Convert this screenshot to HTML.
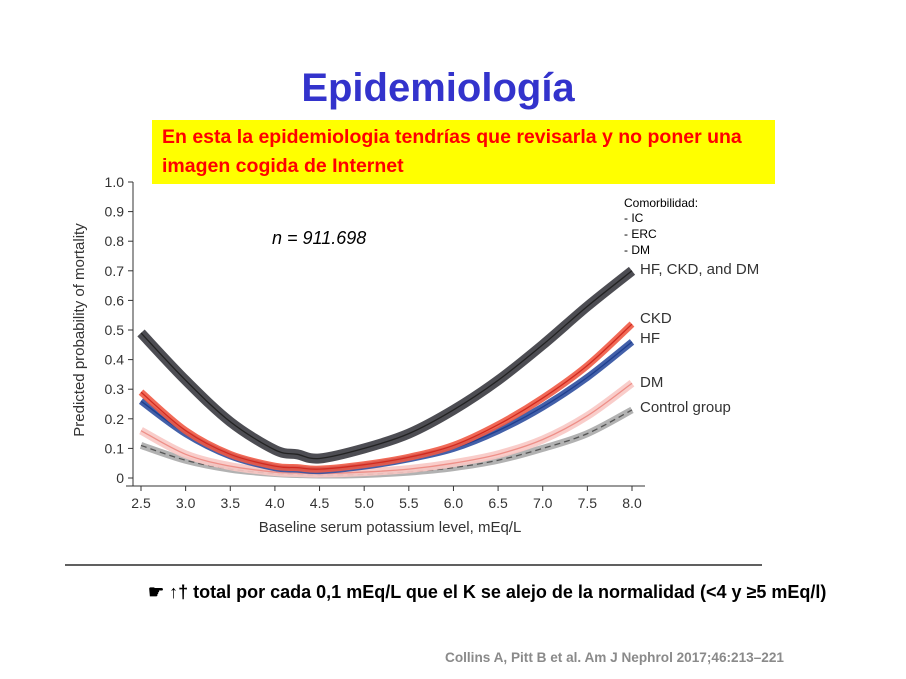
<!DOCTYPE html>
<html><head><meta charset="utf-8"><style>
body{margin:0;width:906px;height:679px;background:#fff;position:relative;overflow:hidden;font-family:"Liberation Sans",sans-serif}
.a{position:absolute}
</style></head><body>
<div class="a" style="left:0;width:876px;top:66px;text-align:center;font-size:40px;font-weight:bold;color:#3333cc">Epidemiología</div>
<div class="a" style="left:152px;top:120px;width:623px;height:64px;background:#ffff00;color:#ff0000;font-weight:bold;font-size:19.5px;line-height:29px;padding:3px 0 0 10px;box-sizing:border-box;white-space:nowrap">En esta la epidemiologia tendrías que revisarla y no poner una<br>imagen cogida de Internet</div>
<svg class="a" style="left:0;top:0" width="906" height="679">
<g id="axes"></g><g id="series"></g>
<text x="272" y="244" font-size="18" font-style="italic" fill="#000">n = 911.698</text>
<g font-size="12" fill="#000">
<text x="624" y="207">Comorbilidad:</text><text x="624" y="222">- IC</text><text x="624" y="238">- ERC</text><text x="624" y="254">- DM</text></g>
<g font-size="15" fill="#333">
<text x="640" y="274">HF, CKD, and DM</text><text x="640" y="323">CKD</text><text x="640" y="343">HF</text><text x="640" y="387">DM</text><text x="640" y="412">Control group</text></g>
<text x="390" y="532" font-size="15" fill="#333" text-anchor="middle">Baseline serum potassium level, mEq/L</text>
<text transform="translate(84,330) rotate(-90)" font-size="15" fill="#333" text-anchor="middle">Predicted probability of mortality</text>
<line x1="65" y1="565" x2="762" y2="565" stroke="#000" stroke-width="1.2"/>
</svg>
<div class="a" style="left:148px;top:582px;font-size:18px;font-weight:bold;color:#000;white-space:nowrap">☛ ↑† total por cada 0,1 mEq/L que el K se alejo de la normalidad (&lt;4 y ≥5 mEq/l)</div>
<div class="a" style="left:445px;top:650px;font-size:13.6px;font-weight:bold;color:#8a8a8a;white-space:nowrap">Collins A, Pitt B et al. Am J Nephrol 2017;46:213–221</div>
<script>
const xs=[2.5,3.0,3.5,4.0,4.25,4.5,5.0,5.5,6.0,6.5,7.0,7.5,8.0];
const allDm=[0.49,0.33,0.19,0.095,0.08,0.066,0.10,0.15,0.23,0.33,0.45,0.58,0.70];
const ckd=[0.29,0.16,0.08,0.04,0.035,0.03,0.045,0.07,0.11,0.18,0.27,0.38,0.52];
const hf=[0.26,0.15,0.075,0.035,0.03,0.025,0.04,0.065,0.10,0.16,0.24,0.34,0.46];
const dm=[0.16,0.08,0.04,0.02,0.017,0.015,0.02,0.03,0.05,0.08,0.13,0.21,0.32];
const ctrl=[0.11,0.06,0.03,0.015,0.012,0.01,0.012,0.02,0.035,0.06,0.10,0.15,0.23];
const xTicks=["2.5","3.0","3.5","4.0","4.5","5.0","5.5","6.0","6.5","7.0","7.5","8.0"];
const yTicks=["0","0.1","0.2","0.3","0.4","0.5","0.6","0.7","0.8","0.9","1.0"];
const X=v=>141+(v-2.5)*(632-141)/5.5, Y=v=>478-v*296;
const NS="http://www.w3.org/2000/svg";
function mk(t,a,p){const e=document.createElementNS(NS,t);for(const k in a)e.setAttribute(k,a[k]);p.appendChild(e);return e;}
const ax=document.getElementById('axes');
const xl=mk('line',{x1:126,y1:486,x2:645,y2:486,stroke:'#333'},ax);


const yl=mk('line',{x1:133,y1:182,x2:133,y2:486,stroke:'#333'},ax);


xTicks.forEach(t=>{const x=X(+t);mk('line',{x1:x,y1:486,x2:x,y2:491,stroke:'#333'},ax);
const e=mk('text',{x:x,y:508,'font-size':14,'text-anchor':'middle',fill:'#333'},ax);e.textContent=t;

});
yTicks.forEach(t=>{const y=Y(+t);mk('line',{x1:128,y1:y,x2:133,y2:y,stroke:'#333'},ax);
const e=mk('text',{x:124,y:y+5,'font-size':14,'text-anchor':'end',fill:'#333'},ax);e.textContent=t;

});
function path(vals){const p=xs.map((x,i)=>[X(x),Y(vals[i])]);let d='M'+p[0];
for(let i=0;i<p.length-1;i++){const p0=p[i-1]||p[i],p1=p[i],p2=p[i+1],p3=p[i+2]||p2;
d+=' C'+(p1[0]+(p2[0]-p0[0])/6)+','+(p1[1]+(p2[1]-p0[1])/6)+' '+(p2[0]-(p3[0]-p1[0])/6)+','+(p2[1]-(p3[1]-p1[1])/6)+' '+p2;}return d;}
const sg=document.getElementById('series');
const defs=[[ctrl,'#aaaaaa','#555',7,'control'],[dm,'#f8c8c4','#ee8f88',8,'dm'],[hf,'#2f4fa0','#1f3f90',7,'hf'],[ckd,'#ef5a45','#d02a20',7,'ckd'],[allDm,'#3a3a40','#222',10,'hf-ckd-dm']];
defs.forEach(([v,band,line,w,n])=>{
const b=mk('path',{d:path(v),fill:'none',stroke:band,'stroke-width':w,opacity:0.9},sg);


const l=mk('path',{d:path(v),fill:'none',stroke:line,'stroke-width':1.3},sg);
if(n==='control')l.setAttribute('stroke-dasharray','6,4');

});
</script>
</body></html>
